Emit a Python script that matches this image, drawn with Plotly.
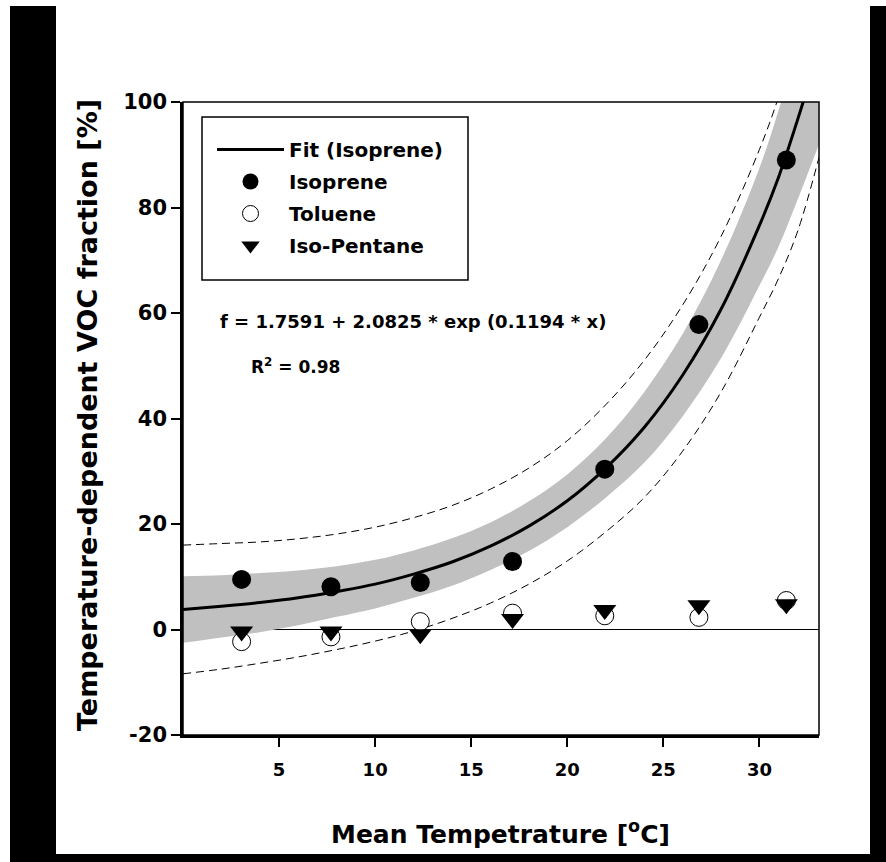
import plotly.graph_objects as go

# ---- data ----
temp = [3.05, 7.7, 12.35, 17.15, 21.95, 26.85, 31.4]
isoprene = [9.5, 8.1, 8.9, 12.9, 30.4, 57.8, 89.0]
toluene = [-2.3, -1.4, 1.5, 3.1, 2.6, 2.3, 5.5]
isopentane = [-0.4, -0.4, -0.9, 2.0, 3.7, 4.6, 4.8]

# fitted curve (Isoprene)
fit_x = [0, 2, 4, 6, 8, 10, 12, 14, 16, 18, 20, 22, 24, 26, 28, 30, 31, 32, 32.3]
fit_y = [3.8, 4.4, 5.1, 6.0, 7.2, 8.6, 10.5, 12.8, 15.8, 19.6, 24.4, 30.6, 38.3, 48.2, 60.7, 76.6, 85.8, 96.8, 100.3]

# 95% confidence band (grey) and prediction band (dashed)
band_x = [0, 2, 4, 6, 8, 10, 12, 14, 16, 18, 20, 22, 24, 26, 28, 30, 31, 32, 33.1]
conf_hi = [10.1, 10.3, 10.7, 11.2, 12.0, 13.2, 15.0, 17.3, 20.3, 24.3, 29.4, 36.2, 45.0, 56.0, 70.0, 87.5, 98.5, 111.0, 127.0]
conf_lo = [-2.5, -1.5, -0.5, 0.8, 2.4, 4.0, 6.0, 8.3, 11.3, 14.9, 19.4, 25.0, 31.6, 40.4, 51.4, 65.2, 72.6, 81.6, 92.0]
pred_hi = [16.0, 16.3, 16.6, 17.2, 18.1, 19.4, 21.2, 23.5, 26.6, 30.6, 35.8, 42.6, 51.0, 61.5, 74.5, 91.0, 101.0, 113.0, 128.0]
pred_lo = [-8.4, -7.5, -6.4, -5.2, -3.8, -2.2, -0.3, 2.1, 5.0, 8.6, 13.0, 18.5, 25.0, 33.8, 45.0, 59.2, 66.6, 75.6, 89.5]

x_ticks = [5, 10, 15, 20, 25, 30]
y_ticks = [-20, 0, 20, 40, 60, 80, 100]
y_ticktext = ["-20", "0", "20", "40", "60", "80", "100"]

FONT = "DejaVu Sans, Verdana, sans-serif"

fig = go.Figure()

# grey confidence band
fig.add_trace(go.Scatter(x=band_x, y=conf_lo, mode="lines", line=dict(width=0, shape="spline"),
                         showlegend=False, hoverinfo="skip"))
fig.add_trace(go.Scatter(x=band_x, y=conf_hi, mode="lines", line=dict(width=0, shape="spline"),
                         fill="tonexty", fillcolor="#c0c0c0", showlegend=False, hoverinfo="skip"))
# dashed prediction band
for yy in (pred_hi, pred_lo):
    fig.add_trace(go.Scatter(x=band_x, y=yy, mode="lines",
                             line=dict(color="black", width=1, dash="8px,5px", shape="spline"),
                             showlegend=False, hoverinfo="skip"))
# fit line
fig.add_trace(go.Scatter(x=fit_x, y=fit_y, mode="lines", name="Fit (Isoprene)",
                         line=dict(color="black", width=3, shape="spline"),
                         legendgroup="a", legendrank=1))
fig.add_trace(go.Scatter(x=temp, y=toluene, mode="markers", name="Toluene",
                         marker=dict(symbol="circle", size=18, color="white",
                                     line=dict(color="black", width=1)),
                         legendgroup="c", legendrank=3))
fig.add_trace(go.Scatter(x=temp, y=isopentane, mode="markers", name="Iso-Pentane",
                         marker=dict(symbol="triangle-down", size=20, color="black",
                                     line=dict(color="black", width=0)),
                         legendgroup="d", legendrank=4))
fig.add_trace(go.Scatter(x=temp, y=isoprene, mode="markers", name="Isoprene",
                         marker=dict(symbol="circle", size=19, color="black",
                                     line=dict(color="black", width=0)),
                         legendgroup="b", legendrank=2))

L, R, T, B = 183, 819, 102, 735
W, H = 886, 862
pw, ph = R - L, B - T


def px(x):
    return (x - L) / pw


def py(y):
    return (B - y) / ph


shapes = []
# black frame around the picture
for x0, y0, x1, y1 in [(10, 6, 56, 862), (870, 6, 886, 862), (10, 854, 886, 862)]:
    shapes.append(dict(type="rect", xref="paper", yref="paper", x0=px(x0), x1=px(x1),
                       y0=py(y0), y1=py(y1), fillcolor="black", line=dict(width=0), layer="above"))
# plot border (thin top/right)
shapes.append(dict(type="rect", xref="paper", yref="paper", x0=0, x1=1, y0=0, y1=1,
                   line=dict(color="black", width=1.5), layer="above"))
# legend box
shapes.append(dict(type="rect", xref="paper", yref="paper", x0=px(202), x1=px(468),
                   y0=py(280), y1=py(117), fillcolor="white",
                   line=dict(color="black", width=1.5), layer="below"))

fig.update_layout(
    width=W, height=H,
    margin=dict(l=L, r=W - R, t=T, b=H - B, pad=0),
    paper_bgcolor="white", plot_bgcolor="rgba(0,0,0,0)",
    font=dict(family=FONT, color="black", size=18, weight="bold"),
    shapes=shapes,
    showlegend=True,
    legend=dict(x=px(212), y=py(130), xanchor="left", yanchor="top",
                bgcolor="rgba(0,0,0,0)", borderwidth=0,
                font=dict(family=FONT, size=20, weight="bold"),
                traceorder="grouped", tracegroupgap=3, itemwidth=67,
                itemsizing="trace"),
    annotations=[
        dict(text="f = 1.7591 + 2.0825 * exp (0.1194 * x)", xref="paper", yref="paper",
             x=px(218), y=py(321), xanchor="left", yanchor="middle", showarrow=False,
             font=dict(family=FONT, size=18, weight="bold")),
        dict(text="R<sup>2</sup> = 0.98", xref="paper", yref="paper",
             x=px(249), y=py(366), xanchor="left", yanchor="middle", showarrow=False,
             font=dict(family=FONT, size=17, weight="bold")),
        dict(text="Mean Tempetrature [<sup>o</sup>C]", xref="paper", yref="paper",
             x=px(500), y=py(832), xanchor="center", yanchor="middle", showarrow=False,
             font=dict(family=FONT, size=25, weight="bold")),
        dict(text="Temperature-dependent VOC fraction [%]", xref="paper", yref="paper",
             x=px(87), y=py(415), xanchor="center", yanchor="middle", showarrow=False,
             textangle=-90, font=dict(family=FONT, size=27, weight="bold")),
    ],
)

fig.update_xaxes(range=[0, 33.1], tickvals=x_ticks, ticks="outside", ticklen=9, tickwidth=1.5,
                 tickcolor="black", showline=True, linecolor="black", linewidth=2.5,
                 showgrid=False, zeroline=False, ticklabelstandoff=8,
                 tickfont=dict(family=FONT, size=18, weight="bold"))
fig.update_yaxes(range=[-20, 100], tickvals=y_ticks, ticktext=y_ticktext, ticks="outside",
                 ticklen=9, tickwidth=1.5,
                 tickcolor="black", showline=True, linecolor="black", linewidth=2.5,
                 showgrid=False, zeroline=True, zerolinecolor="black", zerolinewidth=1,
                 tickfont=dict(family=FONT, size=21, weight="bold"))

fig.write_html("out.html")
